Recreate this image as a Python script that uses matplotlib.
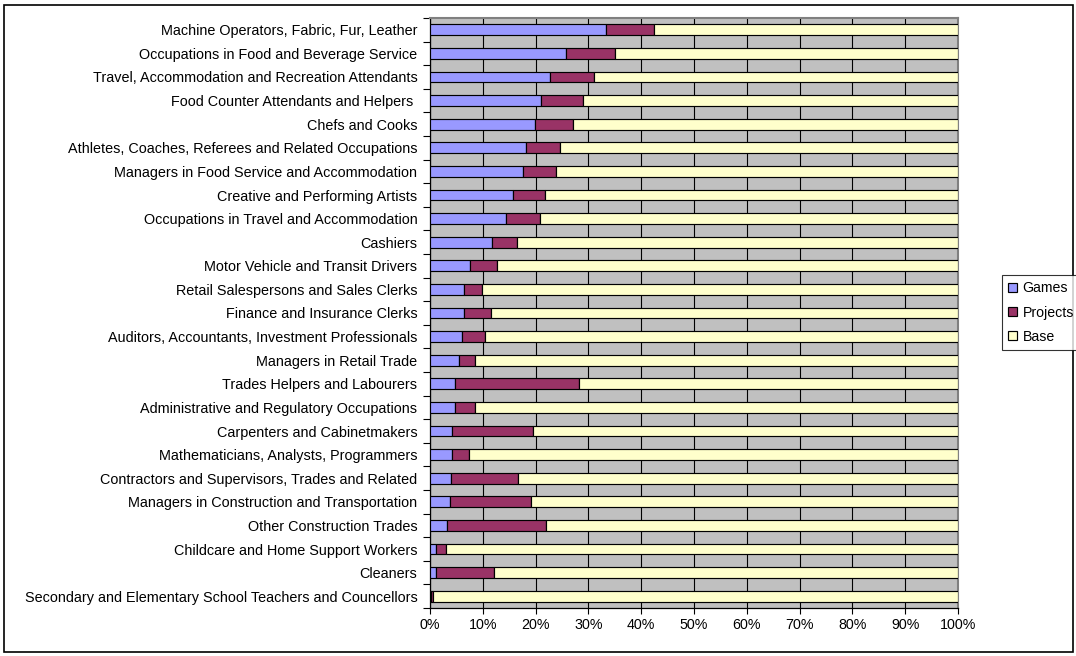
import matplotlib
matplotlib.use("Agg")
import matplotlib.pyplot as plt
from matplotlib.patches import Rectangle
from matplotlib.ticker import FixedLocator, PercentFormatter

plt.rcParams['font.family'] = ['Liberation Sans', 'DejaVu Sans']

occupations = [
    "Machine Operators, Fabric, Fur, Leather",
    "Occupations in Food and Beverage Service",
    "Travel, Accommodation and Recreation Attendants",
    "Food Counter Attendants and Helpers ",
    "Chefs and Cooks",
    "Athletes, Coaches, Referees and Related Occupations",
    "Managers in Food Service and Accommodation",
    "Creative and Performing Artists",
    "Occupations in Travel and Accommodation",
    "Cashiers",
    "Motor Vehicle and Transit Drivers",
    "Retail Salespersons and Sales Clerks",
    "Finance and Insurance Clerks",
    "Auditors, Accountants, Investment Professionals",
    "Managers in Retail Trade",
    "Trades Helpers and Labourers",
    "Administrative and Regulatory Occupations",
    "Carpenters and Cabinetmakers",
    "Mathematicians, Analysts, Programmers",
    "Contractors and Supervisors, Trades and Related",
    "Managers in Construction and Transportation",
    "Other Construction Trades",
    "Childcare and Home Support Workers",
    "Cleaners",
    "Secondary and Elementary School Teachers and Councellors",
]

# Shares in percent
games = [33.3, 25.7, 22.7, 21.1, 19.9, 18.2, 17.6, 15.8, 14.3, 11.8,
         7.5, 6.5, 6.5, 6.0, 5.4, 4.7, 4.7, 4.2, 4.2, 4.0,
         3.7, 3.2, 1.1, 1.1, 0.2]
projects = [9.1, 9.3, 8.4, 7.9, 7.1, 6.5, 6.3, 5.9, 6.6, 4.6,
            5.1, 3.3, 5.1, 4.5, 3.1, 23.5, 3.8, 15.4, 3.1, 12.6,
            15.4, 18.8, 1.9, 11.0, 0.3]
base = [100 - g - p for g, p in zip(games, projects)]

series = [("Games", games, "#9999FF"),
          ("Projects", projects, "#993366"),
          ("Base", base, "#FFFFCC")]

W, H = 1076, 656
fig = plt.figure(figsize=(W / 100, H / 100), dpi=100)
fig.patch.set_facecolor("white")

# chart area border
fig.add_artist(Rectangle((4 / W, 4 / H), (W - 3) / W - 4 / W, (H - 5) / H - 4 / H,
                         transform=fig.transFigure, fill=False,
                         edgecolor="black", linewidth=1.2))

ax = fig.add_axes([430 / W, 1 - 608 / H, (958 - 430) / W, (608 - 18) / H])
ax.set_facecolor("#C0C0C0")

ypos = list(range(len(occupations)))
left = [0.0] * len(occupations)
handles = []
for name, vals, color in series:
    bars = ax.barh(ypos, vals, left=left, height=0.46, color=color,
                   edgecolor="black", linewidth=0.85, label=name, zorder=3)
    handles.append(bars)
    left = [l + v for l, v in zip(left, vals)]

ax.set_xlim(0, 100)
ax.set_ylim(len(occupations) - 0.5, -0.5)

ax.set_xticks(range(0, 101, 10))
ax.xaxis.set_major_formatter(PercentFormatter(decimals=0))
ax.tick_params(axis="x", direction="out", length=4, width=0.8, pad=3,
               labelsize=10.3, colors="black")
ax.grid(axis="x", color="black", linewidth=0.8, zorder=1)
ax.set_axisbelow(True)

ax.set_yticks(ypos)
ax.set_yticklabels(occupations)
ax.tick_params(axis="y", which="major", length=0, pad=9, labelsize=10.4)
ax.yaxis.set_minor_locator(FixedLocator([i - 0.5 for i in range(len(occupations) + 1)]))
ax.tick_params(axis="y", which="minor", direction="out", length=5, width=0.8)

for side in ("left", "bottom"):
    ax.spines[side].set_color("black")
    ax.spines[side].set_linewidth(0.9)
for side in ("top", "right"):
    ax.spines[side].set_color("#808080")
    ax.spines[side].set_linewidth(1.5)

leg = fig.legend(handles=handles, loc="upper left",
                 bbox_to_anchor=(1002 / W, 1 - 275 / H),
                 frameon=True, fancybox=False, fontsize=10.2,
                 handlelength=0.6, handleheight=0.6, handletextpad=0.4,
                 borderpad=0.45, labelspacing=0.72, borderaxespad=0)
leg.get_frame().set_edgecolor("black")
leg.get_frame().set_linewidth(0.8)

fig.savefig("out.png", dpi=100, facecolor="white")
